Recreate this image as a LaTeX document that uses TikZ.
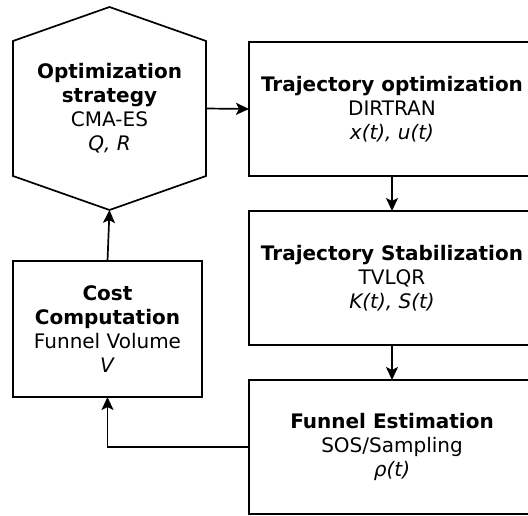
\documentclass[tikz,border=0pt]{standalone}
\usepackage{fontspec}
\setmainfont{DejaVu Sans}
\usetikzlibrary{arrows.meta,positioning}

\tikzset{
  block/.style={draw, line width=1.7pt, align=center, inner sep=0pt, outer sep=0pt,
    minimum width=286pt, minimum height=134pt,
    font=\fontsize{20}{24}\selectfont},
  flow/.style={-{Stealth[length=13pt,width=12pt,inset=3pt]}, line width=1.7pt},
}

\begin{document}
\begin{tikzpicture}[x=1pt,y=-1pt]
  \useasboundingbox (0,0) rectangle (528,516);

  \node[block, draw=none, minimum width=193pt, minimum height=203pt] (opt) at (109.5,108.5)
    {\textbf{Optimization}\\\textbf{strategy}\\CMA-ES\\\textit{Q, R}};
  \draw[line width=1.7pt] (opt.north) -- ([yshift=-34pt]opt.north east)
    -- ([yshift=34pt]opt.south east) -- (opt.south)
    -- ([yshift=34pt]opt.south west) -- ([yshift=-34pt]opt.north west) -- cycle;

  \node[block, anchor=west] (traj) at (249,109)
    {\textbf{Trajectory optimization}\\DIRTRAN\\\textit{x(t), u(t)}};
  \node[block, below=35pt of traj] (stab)
    {\textbf{Trajectory Stabilization}\\TVLQR\\\textit{K(t), S(t)}};
  \node[block, below=35pt of stab] (est)
    {\textbf{Funnel Estimation}\\SOS/Sampling\\\textit{ρ(t)}};
  \node[block, minimum width=189pt, minimum height=136pt] (cost) at (107.5,329)
    {\textbf{Cost}\\\textbf{Computation}\\Funnel Volume\\\textit{V}};

  \draw[flow] (opt.east) -- (traj.west);
  \draw[flow] (traj) -- (stab);
  \draw[flow] (stab) -- (est);
  \draw[flow] (est.west) -| (cost.south);
  \draw[flow] (cost.north) -- (opt.south);
\end{tikzpicture}
\end{document}
